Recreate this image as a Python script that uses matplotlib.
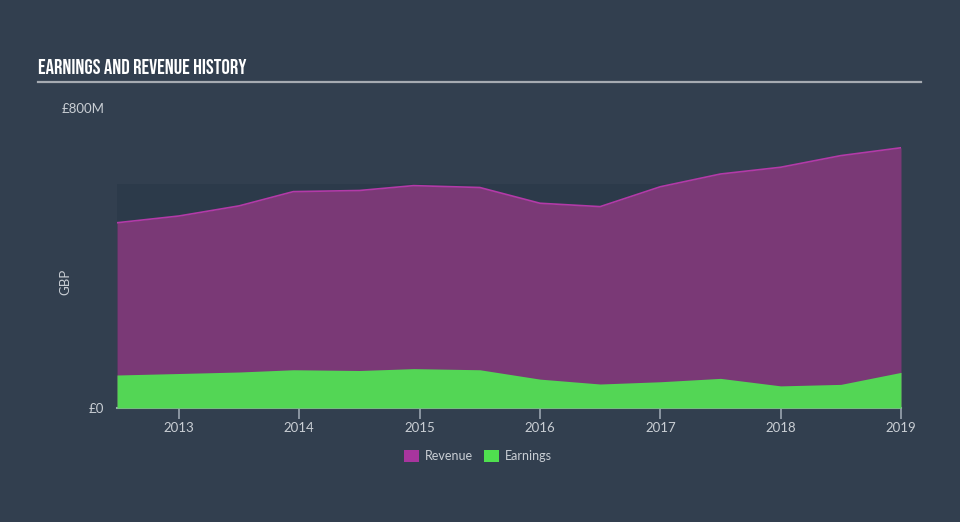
import matplotlib
matplotlib.use("Agg")
import matplotlib.pyplot as plt
from matplotlib.patches import Rectangle
from matplotlib import font_manager as fm

# half-yearly points (GBP millions)
dates = [2012.485, 2013.0, 2013.5, 2013.95, 2014.5, 2014.95, 2015.5,
         2016.0, 2016.5, 2017.0, 2017.5, 2018.0, 2018.5, 2019.0]
revenue = [494, 512, 539, 577, 580, 593, 588,
           546, 537, 590, 624, 642, 673, 694]
earnings = [88, 92, 96, 102, 100, 105, 102,
            77, 64, 70, 79, 59, 63, 95]
shade_top = 597
years = [2013, 2014, 2015, 2016, 2017, 2018, 2019]

bg = "#323f4f"
grey = "#c9ced4"

# pick a tall condensed face for the title if one is installed
installed = {f.name for f in fm.fontManager.ttflist}
title_font, title_size = "Barlow Condensed", 12.5
for name, size in [("Bebas Neue", 15), ("Oswald", 12.5), ("Fjalla One", 12.5)]:
    if name in installed:
        title_font, title_size = name, size
        break

fig = plt.figure(figsize=(9.6, 5.22), dpi=100, facecolor=bg)
ax = fig.add_axes([117 / 960, 114 / 522, 784 / 960, 300 / 522])
ax.set_facecolor(bg)

ax.add_patch(Rectangle((dates[0], 0), dates[-1] - dates[0], shade_top,
                       facecolor="#2c3a4a", edgecolor="none", zorder=0))
ax.fill_between(dates, 0, revenue, color="#7a3976", lw=0, zorder=1)
ax.plot(dates, revenue, color="#b33aa8", lw=1.2, zorder=2)
ax.fill_between(dates, 0, earnings, color="#53d655", lw=0, zorder=3)

ax.set_xlim(dates[0], dates[-1])
ax.set_ylim(0, 800)
ax.set_xticks(years)
ax.set_xticklabels([str(y) for y in years])
ax.set_yticks([0, 800])
ax.set_yticklabels(["£0", "£800M"])
for s in ["top", "right", "left"]:
    ax.spines[s].set_visible(False)
ax.spines["bottom"].set_color("#9aa4b0")
ax.spines["bottom"].set_linewidth(1.5)
ax.tick_params(axis="x", colors="#9aa4b0", length=8, width=1.2, pad=2,
               labelcolor=grey, labelsize=9.5)
ax.tick_params(axis="y", length=0, pad=9, labelcolor=grey, labelsize=9.5)
for lab in ax.get_xticklabels() + ax.get_yticklabels():
    lab.set_family("Lato")
ax.set_ylabel("GBP", color=grey, fontsize=9.5, family="Lato")
ax.yaxis.set_label_coords(-46 / 784, 0.42)

fig.text(38 / 960, 1 - 67 / 522, "EARNINGS AND REVENUE HISTORY", color="white",
         fontsize=title_size, fontweight="bold", family=title_font,
         va="center", ha="left")
fig.add_artist(plt.Line2D([38 / 960, 921 / 960], [1 - 82 / 522, 1 - 82 / 522],
                          color="#a6abb2", lw=1.6))

# legend
ly = 1 - 456 / 522
fig.add_artist(Rectangle((404 / 960, ly - 6 / 522), 15 / 960, 12 / 522,
                         facecolor="#a8359e", edgecolor="none"))
fig.text(425 / 960, ly, "Revenue", color=grey, fontsize=9, family="Lato", va="center")
fig.add_artist(Rectangle((484 / 960, ly - 6 / 522), 15 / 960, 12 / 522,
                         facecolor="#4fe04f", edgecolor="none"))
fig.text(505 / 960, ly, "Earnings", color=grey, fontsize=9, family="Lato", va="center")

fig.savefig("out.png", dpi=100, facecolor=bg)
